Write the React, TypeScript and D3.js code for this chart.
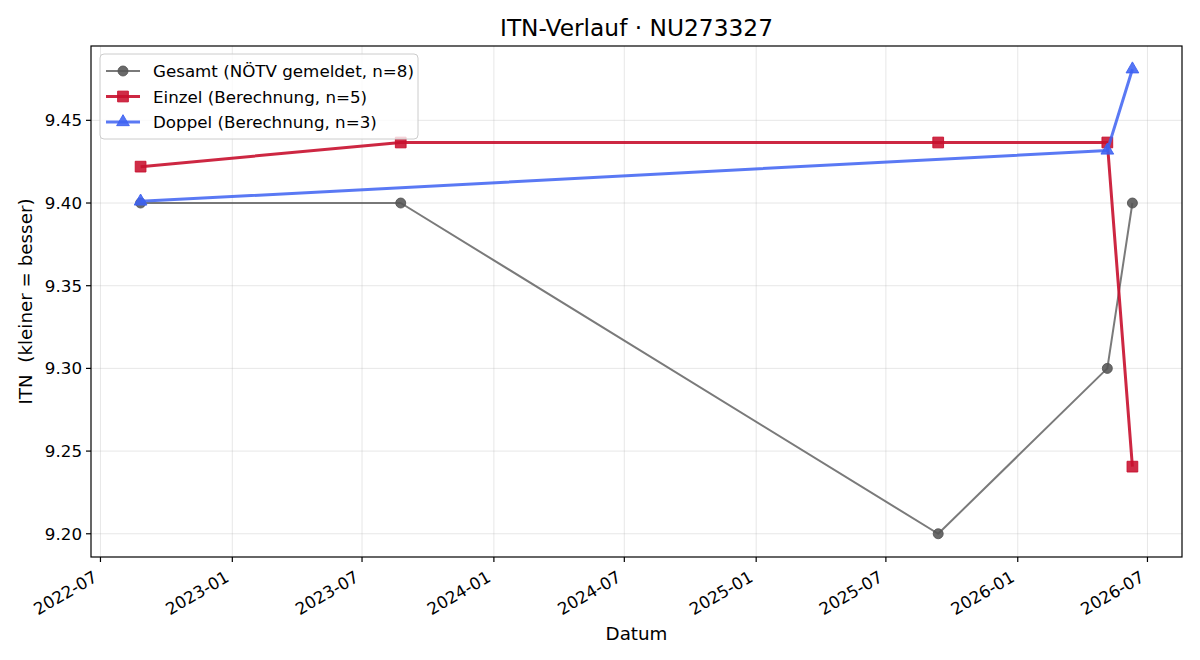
import React from 'react';
import * as d3 from 'd3';

// values
const GESAMT_DATES = ['2022-08-26', '2023-08-24', '2025-09-12', '2026-05-06', '2026-06-10'];
const GESAMT_VALUES = [9.40, 9.40, 9.20, 9.30, 9.40];

const EINZEL_DATES = ['2022-08-26', '2023-08-24', '2025-09-12', '2026-05-06', '2026-06-10'];
const EINZEL_VALUES = [9.422, 9.4366, 9.4366, 9.4366, 9.2406];

const DOPPEL_DATES = ['2022-08-26', '2026-05-06', '2026-06-10'];
const DOPPEL_VALUES = [9.401, 9.4318, 9.4809];

const Y_TICKS = [9.20, 9.25, 9.30, 9.35, 9.40, 9.45];

const LABELS = [
  'Gesamt (NÖTV gemeldet, n=8)',
  'Einzel (Berechnung, n=5)',
  'Doppel (Berechnung, n=3)',
];

const TITLE = 'ITN-Verlauf · NU273327';
const X_LABEL = 'Datum';
const Y_LABEL = 'ITN  (kleiner = besser)';

type Pt = { date: Date; value: number };

const toPoints = (dates: string[], values: number[]): Pt[] =>
  dates.map((d, i) => ({ date: new Date(d + 'T00:00:00Z'), value: values[i] }));

const SERIES = [
  { label: LABELS[0], points: toPoints(GESAMT_DATES, GESAMT_VALUES), color: '#555555', lineOpacity: 0.78, width: 2, marker: 'circle' },
  { label: LABELS[1], points: toPoints(EINZEL_DATES, EINZEL_VALUES), color: '#C8102E', lineOpacity: 0.9, width: 3, marker: 'square' },
  { label: LABELS[2], points: toPoints(DOPPEL_DATES, DOPPEL_VALUES), color: '#3D62F2', lineOpacity: 0.85, width: 3, marker: 'triangle' },
];

const FONT = '"DejaVu Sans", sans-serif';

function markerPath(kind: string) {
  if (kind === 'circle') return d3.symbol(d3.symbolCircle, 78)();
  if (kind === 'square') return d3.symbol(d3.symbolSquare, 115)();
  return d3.symbol(d3.symbolTriangle, 70)();
}

export default function App() {
  const width = 1200;
  const height = 660;
  const left = 91, right = 1182, top = 46, bottom = 557;

  const allPts = SERIES.flatMap(s => s.points);
  const [t0, t1] = d3.extent(allPts, p => p.date.getTime()) as [number, number];
  const [v0, v1] = d3.extent(allPts, p => p.value) as [number, number];
  const tPad = (t1 - t0) * 0.05;
  const vPad = (v1 - v0) * 0.05;

  const x = d3.scaleUtc().domain([new Date(t0 - tPad), new Date(t1 + tPad)]).range([left, right]);
  const y = d3.scaleLinear().domain([v0 - vPad, v1 + vPad]).range([bottom, top]);

  const xTicks = x.ticks(d3.utcMonth.every(6)!);
  const fmt = d3.utcFormat('%Y-%m');

  const line = d3.line<Pt>().x(p => x(p.date)).y(p => y(p.value));

  return (
    <svg width={width} height={height} style={{ position: 'absolute', left: 0, top: 0, background: '#fff' }}
      fontFamily={FONT}>
      <rect x={0} y={0} width={width} height={height} fill="#fff" />

      {/* grid */}
      <g stroke="#b0b0b0" strokeOpacity={0.3} strokeWidth={1}>
        {xTicks.map(t => (
          <line key={'gx' + t.getTime()} x1={x(t)} x2={x(t)} y1={top} y2={bottom} />
        ))}
        {Y_TICKS.map(v => (
          <line key={'gy' + v} x1={left} x2={right} y1={y(v)} y2={y(v)} />
        ))}
      </g>

      {/* series */}
      {SERIES.map(s => (
        <g key={s.label}>
          <path d={line(s.points) || ''} fill="none" stroke={s.color} strokeOpacity={s.lineOpacity}
            strokeWidth={s.width} strokeLinejoin="round" strokeLinecap="butt" />
          {s.points.map((p, i) => (
            <path key={i} d={markerPath(s.marker) || ''} transform={`translate(${x(p.date)},${y(p.value)})`}
              fill={s.color} fillOpacity={0.88} stroke={s.color} strokeOpacity={0.9} strokeWidth={1} />
          ))}
        </g>
      ))}

      {/* frame */}
      <rect x={left} y={top} width={right - left} height={bottom - top} fill="none" stroke="#000" strokeWidth={1.2} />

      {/* x axis */}
      {xTicks.map(t => (
        <g key={'xt' + t.getTime()}>
          <line x1={x(t)} x2={x(t)} y1={bottom} y2={bottom + 5} stroke="#000" strokeWidth={1.2} />
          <g transform={`translate(${x(t)},${bottom + 27}) rotate(-30)`}>
            <text x={0} y={-4} textAnchor="end" fontSize={16.7} fill="#000">{fmt(t)}</text>
          </g>
        </g>
      ))}
      <text x={(left + right) / 2} y={640} textAnchor="middle" fontSize={18.3} fill="#000">{X_LABEL}</text>

      {/* y axis */}
      {Y_TICKS.map(v => (
        <g key={'yt' + v}>
          <line x1={left - 5} x2={left} y1={y(v)} y2={y(v)} stroke="#000" strokeWidth={1.2} />
          <text x={left - 9} y={y(v)} dy="0.36em" textAnchor="end" fontSize={16.7} fill="#000">{v.toFixed(2)}</text>
        </g>
      ))}
      <text transform={`translate(32,${(top + bottom) / 2}) rotate(-90)`} textAnchor="middle" fontSize={18.3}
        fill="#000" style={{ whiteSpace: 'pre' }}>{Y_LABEL}</text>

      {/* title */}
      <text x={(left + right) / 2} y={36} textAnchor="middle" fontSize={23.3} fill="#000">{TITLE}</text>

      {/* legend */}
      <g>
        <rect x={100} y={54} width={318} height={85} rx={4} fill="#fff" fillOpacity={0.8} stroke="#cccccc" strokeWidth={1} />
        {SERIES.map((s, i) => {
          const ly = 71 + i * 25.5;
          return (
            <g key={'lg' + s.label}>
              <line x1={106} x2={140} y1={ly} y2={ly} stroke={s.color} strokeOpacity={s.lineOpacity} strokeWidth={s.width} />
              <path d={markerPath(s.marker) || ''} transform={`translate(123,${ly})`} fill={s.color} fillOpacity={0.88}
                stroke={s.color} strokeOpacity={0.9} strokeWidth={1} />
              <text x={153} y={ly} dy="0.36em" fontSize={16.7} fill="#000">{s.label}</text>
            </g>
          );
        })}
      </g>
    </svg>
  );
}
